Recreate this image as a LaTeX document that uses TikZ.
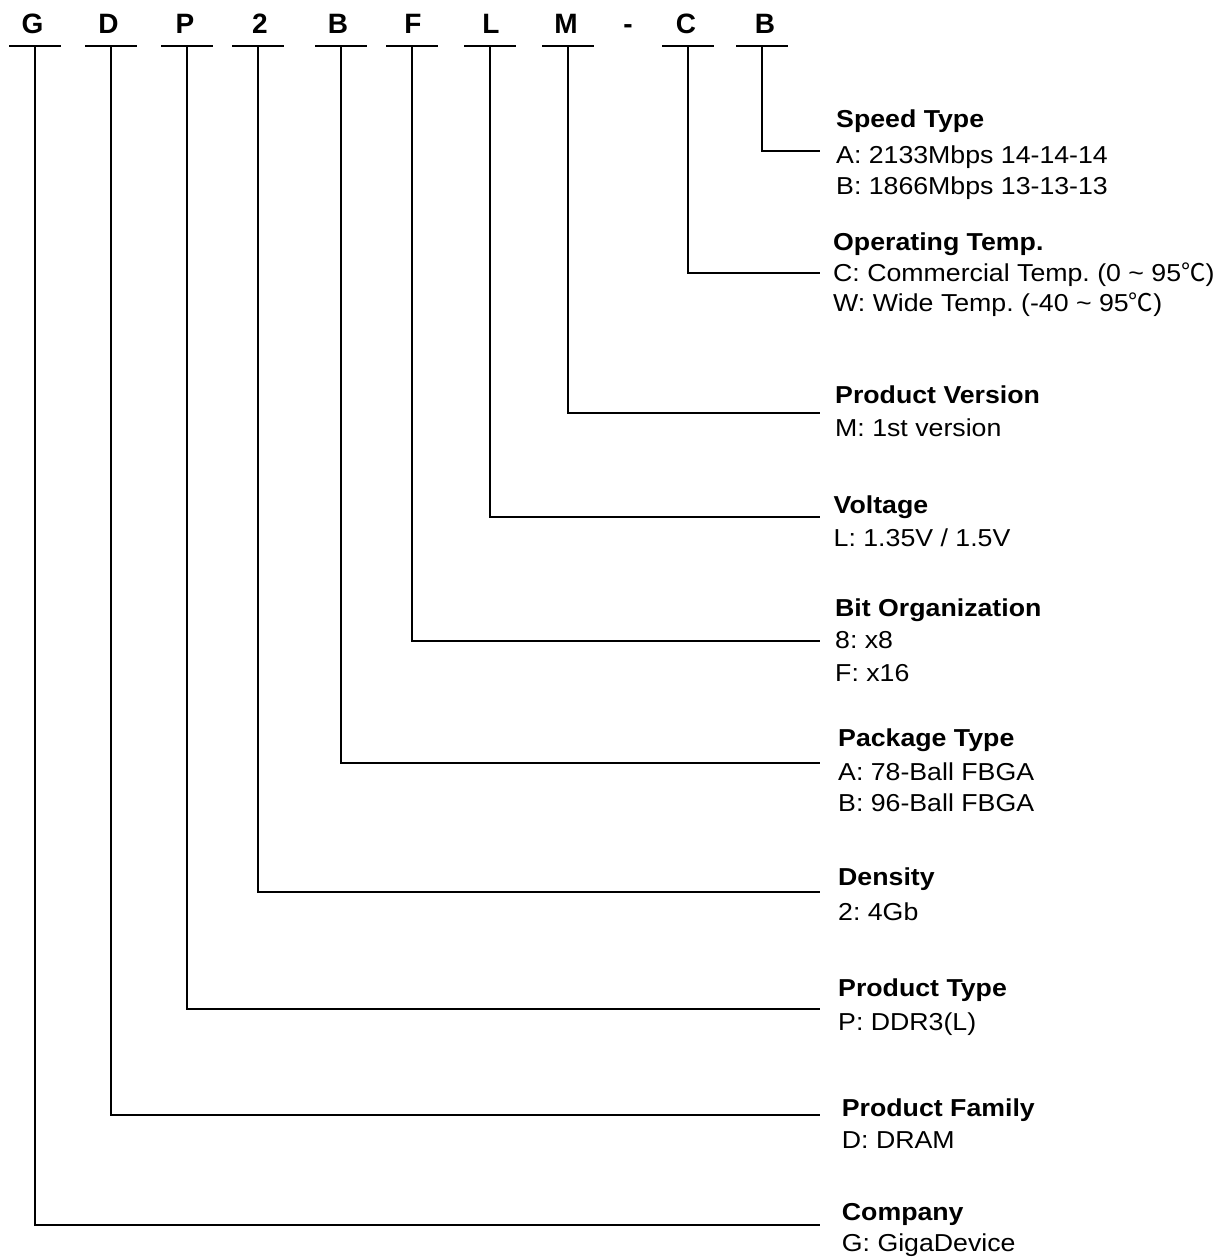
\documentclass[tikz,border=0pt]{standalone}
\usepackage{fontspec}
\setmainfont{Liberation Sans}
\newfontfamily\descfont{Liberation Sans}[FakeStretch=1.09]
\newfontfamily\degfont{Noto Sans CJK SC}
\newcommand\degC{{\degfont ℃}}
\frenchspacing
\begin{document}
\begin{tikzpicture}[x=1pt,y=-1pt,
  code/.style={font=\fontsize{28}{30}\selectfont\bfseries, inner sep=0pt, anchor=base},
  ttl/.style={font=\descfont\fontsize{24.5}{28}\selectfont\bfseries, inner sep=0pt, anchor=base west},
  itm/.style={font=\descfont\fontsize{24.5}{28}\selectfont, inner sep=0pt, anchor=base west},
  wire/.style={line width=2pt}]
\useasboundingbox[fill=white] (0,0) rectangle (1227,1260);
% code letters, bars and stem tops
\foreach \n/\l/\lx/\sx in {G/G/32.5/35, D/D/108.5/111, P/P/185/187, T/2/260/258,
    B/B/338/341, F/F/413/412, L/L/491/490, M/M/566/568, C/C/686/688, S/B/765/762}{
  \node[code] (c\n) at (\lx,33.5) {\l};
  \coordinate (s\n) at (\sx,46);
  \draw[wire] ([xshift=-26pt]s\n) -- ([xshift=26pt]s\n);
}
\node[code] (cdash) at (628,33.5) {-};
% line end points
\coordinate (eS) at (820,150.7);
\coordinate (eC) at (820,273.3);
\coordinate (eM) at (820,413.3);
\coordinate (eL) at (820,516.7);
\coordinate (eF) at (820,641);
\coordinate (eB) at (820,762.7);
\coordinate (eT) at (820,892.3);
\coordinate (eP) at (820,1009.3);
\coordinate (eD) at (820,1115);
\coordinate (eG) at (820,1225);
\foreach \n in {S,C,M,L,F,B,T,P,D,G}{
  \draw[wire] (s\n) |- (e\n);
}
% descriptions
\node[ttl] (tS) at (836,128) {Speed Type};
\node[itm] (tS1) at (836,164) {A: 2133Mbps 14-14-14};
\node[itm] (tS2) at (836,195) {B: 1866Mbps 13-13-13};

\node[ttl] (tC) at (833,250) {Operating Temp.};
\node[itm] (tC1) at (833,281.7) {C: Commercial Temp. (0 \textasciitilde\ 95\degC)};
\node[itm] (tC2) at (833,311.7) {W: Wide Temp. (-40 \textasciitilde\ 95\degC)};

\node[ttl] (tM) at (835,403.3) {Product Version};
\node[itm] (tM1) at (835,436.7) {M: 1st version};

\node[ttl] (tL) at (833.5,513.3) {Voltage};
\node[itm] (tL1) at (833.5,546.7) {L: 1.35V / 1.5V};

\node[ttl] (tF) at (835,616.7) {Bit Organization};
\node[itm] (tF1) at (835,648.3) {8: x8};
\node[itm] (tF2) at (835,681.7) {F: x16};

\node[ttl] (tB) at (838,746.7) {Package Type};
\node[itm] (tB1) at (838,780) {A: 78-Ball FBGA};
\node[itm] (tB2) at (838,811.7) {B: 96-Ball FBGA};

\node[ttl] (tT) at (838,885) {Density};
\node[itm] (tT1) at (838,920) {2: 4Gb};

\node[ttl] (tP) at (838,996.7) {Product Type};
\node[itm] (tP1) at (838,1030) {P: DDR3(L)};

\node[ttl] (tD) at (841.7,1116.7) {Product Family};
\node[itm] (tD1) at (841.7,1148.3) {D: DRAM};

\node[ttl] (tG) at (841.7,1220) {Company};
\node[itm] (tG1) at (841.7,1251.7) {G: GigaDevice};
\end{tikzpicture}
\end{document}
